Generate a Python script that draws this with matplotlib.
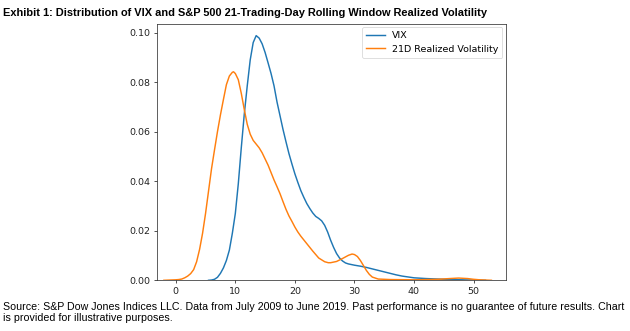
import matplotlib
matplotlib.use("Agg")
from matplotlib import pyplot as plt

# values (density estimates)
vix_x = [5.5, 6.0, 6.5, 7.0, 7.5, 8.0, 8.5, 9.0, 9.5, 10.0, 10.5, 11.0, 11.5,
         12.0, 12.5, 13.0, 13.5, 14.0, 14.5, 15.0, 15.5, 16.0, 16.5, 17.0,
         17.5, 18.0, 18.5, 19.0, 19.5, 20.0, 20.5, 21.0, 21.5, 22.0, 22.5,
         23.0, 23.5, 24.0, 24.5, 25.0, 25.5, 26.0, 26.5, 27.0, 27.5, 28.0,
         28.5, 29.0, 30.0, 31.0, 32.0, 33.0, 34.0, 35.0, 36.0, 37.0, 38.0,
         40.0, 42.0, 44.0, 46.0, 48.0, 50.0, 52.0]
vix_y = [0.0, 0.0001, 0.0004, 0.0012, 0.0028, 0.0050, 0.0080, 0.0122, 0.0190,
         0.0270, 0.0390, 0.0535, 0.0670, 0.0785, 0.0890, 0.0960, 0.0988,
         0.0978, 0.0955, 0.0920, 0.0878, 0.0835, 0.0785, 0.0720, 0.0665,
         0.0610, 0.0560, 0.0512, 0.0470, 0.0430, 0.0395, 0.0362, 0.0335,
         0.0310, 0.0290, 0.0272, 0.0258, 0.0250, 0.0240, 0.0222, 0.0195,
         0.0162, 0.0133, 0.0108, 0.0090, 0.0078, 0.0070, 0.0066, 0.0061,
         0.0057, 0.0052, 0.0046, 0.0040, 0.0034, 0.0028, 0.0022, 0.0017,
         0.0010, 0.0007, 0.0005, 0.0003, 0.0002, 0.0001, 0.0]

rv_x = [-2.0, -1.0, 0.0, 0.5, 1.0, 1.5, 2.0, 2.5, 3.0, 3.5, 4.0, 4.5, 5.0,
        5.5, 6.0, 6.5, 7.0, 7.5, 8.0, 8.5, 9.0, 9.5, 9.7, 10.0, 10.5, 11.0,
        11.5, 12.0, 12.5, 13.0, 13.5, 14.0, 14.5, 15.0, 15.5, 16.0, 16.5,
        17.0, 17.5, 18.0, 18.5, 19.0, 19.5, 20.0, 20.5, 21.0, 22.0, 23.0,
        24.0, 25.0, 25.6, 26.0, 27.0, 28.0, 29.0, 29.6, 30.0, 30.5, 31.0,
        31.5, 32.0, 32.5, 33.0, 34.0, 36.0, 40.0, 44.0, 46.0, 47.5, 49.0,
        50.0, 51.0, 53.0]
rv_y = [0.0, 0.0001, 0.0002, 0.0003, 0.0005, 0.0010, 0.0017, 0.0027, 0.0043,
        0.0075, 0.0125, 0.0190, 0.0270, 0.0360, 0.0450, 0.0526, 0.0600,
        0.0668, 0.0730, 0.0790, 0.0825, 0.0840, 0.0842, 0.0835, 0.0810,
        0.0755, 0.0690, 0.0630, 0.0590, 0.0565, 0.0550, 0.0535, 0.0515,
        0.0490, 0.0465, 0.0435, 0.0405, 0.0378, 0.0350, 0.0318, 0.0287,
        0.0260, 0.0238, 0.0215, 0.0195, 0.0178, 0.0148, 0.0118, 0.0090,
        0.0075, 0.0071, 0.0071, 0.0076, 0.0088, 0.0101, 0.0106, 0.0104,
        0.0096, 0.0080, 0.0060, 0.0040, 0.0024, 0.0013, 0.0005, 0.0003,
        0.0002, 0.0004, 0.0007, 0.0009, 0.0007, 0.0004, 0.0002, 0.0]

series_names = ["VIX", "21D Realized Volatility"]
x_ticks = [0, 10, 20, 30, 40, 50]
y_ticks = [0.00, 0.02, 0.04, 0.06, 0.08, 0.10]

title = "Exhibit 1: Distribution of VIX and S&P 500 21-Trading-Day Rolling Window Realized Volatility"
source = ("Source: S&P Dow Jones Indices LLC. Data from July 2009 to June 2019. "
          "Past performance is no guarantee of future results. Chart\n"
          "is provided for illustrative purposes.")

fs = 6.8

fig = plt.figure(figsize=(6.3, 3.31), dpi=100)
ax = fig.add_axes([0.2497, 0.1532, 0.553, 0.7743])

ax.plot(vix_x, vix_y, color="#1f77b4", lw=1.05, label=series_names[0])
ax.plot(rv_x, rv_y, color="#ff7f0e", lw=1.05, label=series_names[1])

ax.set_xlim(-3.1, 55.4)
ax.set_ylim(0, 0.1035)
ax.set_xticks(x_ticks)
ax.set_yticks(y_ticks)
ax.set_yticklabels(["%.2f" % v for v in y_ticks])
ax.tick_params(labelsize=fs, length=2.4, width=0.55, pad=2.4, colors="#222222")
for sp in ax.spines.values():
    sp.set_linewidth(0.55)
    sp.set_color("#333333")

leg = ax.legend(loc="upper right", fontsize=fs, frameon=True, borderpad=0.4,
                handlelength=2.0, borderaxespad=0.35)
leg.get_frame().set_linewidth(0.55)

fig.text(0.005, 0.962, title, fontsize=7.95, fontweight="bold",
         family=["Liberation Sans", "DejaVu Sans"], va="center", ha="left")
fig.text(0.005, 0.087, source, fontsize=7.7, family=["Liberation Sans", "DejaVu Sans"],
         va="top", ha="left", linespacing=1.08)

fig.savefig("out.png", dpi=100)
